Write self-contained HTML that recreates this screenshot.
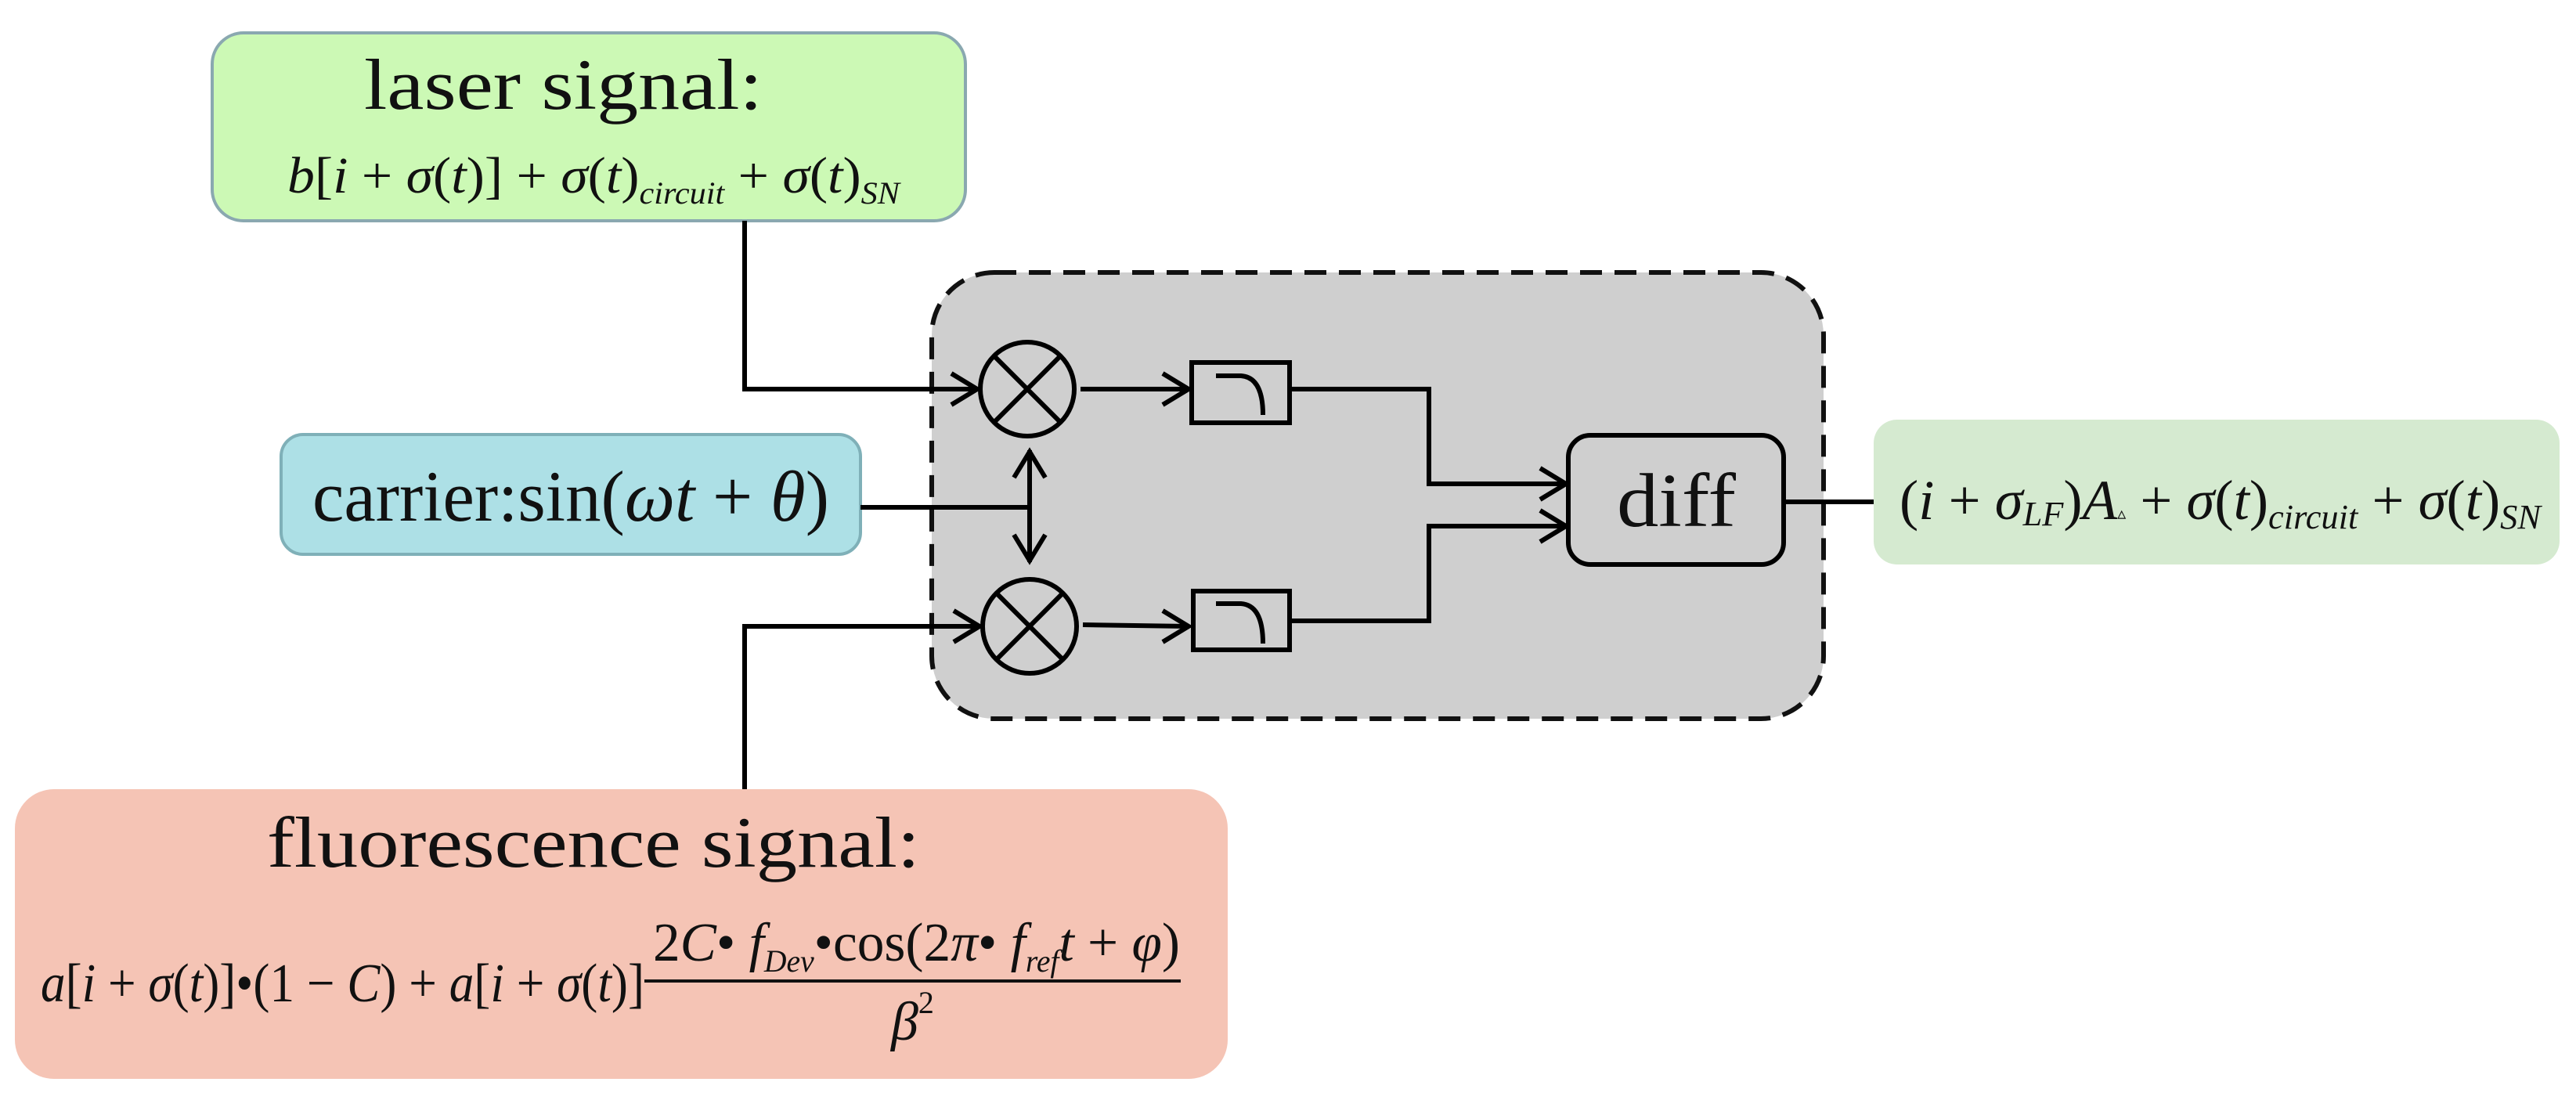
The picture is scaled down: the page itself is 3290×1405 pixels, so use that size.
<!DOCTYPE html>
<html><head><meta charset="utf-8"><style>
html,body{margin:0;padding:0;background:#fff;}
svg{display:block;}
text{font-family:"Liberation Serif",serif;fill:#111;}
.it{font-style:italic;}
</style></head><body>
<svg width="3290" height="1405" viewBox="0 0 3290 1405" xmlns="http://www.w3.org/2000/svg">
<defs>
<marker id="ar" markerWidth="12" markerHeight="12" refX="10" refY="6" orient="auto" markerUnits="userSpaceOnUse" viewBox="0 0 12 12">
</marker>
</defs>
<!-- laser box -->
<rect x="271" y="42" width="962" height="240" rx="40" fill="#ccf9b5" stroke="#8aa8b0" stroke-width="4"/>
<text x="465" y="139" font-size="92" textLength="509" lengthAdjust="spacingAndGlyphs">laser signal:</text>
<text x="367" y="246" font-size="66" textLength="782" lengthAdjust="spacingAndGlyphs"><tspan class="it">b</tspan>[<tspan class="it">i</tspan> + <tspan class="it">σ</tspan>(<tspan class="it">t</tspan>)] + <tspan class="it">σ</tspan>(<tspan class="it">t</tspan>)<tspan class="it" font-size="40" dy="14">circuit</tspan><tspan dy="-14"> + </tspan><tspan class="it">σ</tspan>(<tspan class="it">t</tspan>)<tspan class="it" font-size="40" dy="14">SN</tspan></text>

<!-- dashed box -->
<rect x="1190" y="348" width="1139" height="570" rx="80" fill="#cfcfcf" stroke="#111" stroke-width="6" stroke-dasharray="28,16"/>

<!-- carrier box -->
<rect x="359" y="555" width="740" height="153" rx="28" fill="#ade0e6" stroke="#7fb0b8" stroke-width="4"/>
<text x="399" y="665" font-size="92" textLength="660" lengthAdjust="spacingAndGlyphs">carrier:sin(<tspan class="it">ωt</tspan> + <tspan class="it">θ</tspan>)</text>

<!-- output box -->
<rect x="2393" y="536" width="876" height="185" rx="30" fill="#d5ead0"/>
<text x="2426" y="663" font-size="72" textLength="819" lengthAdjust="spacingAndGlyphs">(<tspan class="it">i</tspan> + <tspan class="it">σ</tspan><tspan class="it" font-size="44" dy="8">LF</tspan><tspan dy="-8">)</tspan><tspan class="it">A</tspan><tspan font-size="22">▵</tspan> + <tspan class="it">σ</tspan>(<tspan class="it">t</tspan>)<tspan class="it" font-size="44" dy="12">circuit</tspan><tspan dy="-12"> + </tspan><tspan class="it">σ</tspan>(<tspan class="it">t</tspan>)<tspan class="it" font-size="44" dy="12">SN</tspan></text>

<!-- fluorescence box -->
<rect x="19" y="1008" width="1549" height="370" rx="50" fill="#f5c4b5"/>
<text x="341" y="1107" font-size="92" textLength="834" lengthAdjust="spacingAndGlyphs">fluorescence signal:</text>
<text x="52" y="1279" font-size="70" textLength="771" lengthAdjust="spacingAndGlyphs"><tspan class="it">a</tspan>[<tspan class="it">i</tspan> + <tspan class="it">σ</tspan>(<tspan class="it">t</tspan>)]•(1 − <tspan class="it">C</tspan>) + <tspan class="it">a</tspan>[<tspan class="it">i</tspan> + <tspan class="it">σ</tspan>(<tspan class="it">t</tspan>)]</text>
<text x="834" y="1227" font-size="70" textLength="673" lengthAdjust="spacingAndGlyphs">2<tspan class="it">C</tspan>• <tspan class="it">f</tspan><tspan class="it" font-size="40" dy="14">Dev</tspan><tspan dy="-14">•cos(2</tspan><tspan class="it">π</tspan>• <tspan class="it">f</tspan><tspan class="it" font-size="40" dy="14">ref</tspan><tspan class="it" dy="-14">t</tspan> + <tspan class="it">φ</tspan>)</text>
<line x1="823" y1="1253" x2="1508" y2="1253" stroke="#111" stroke-width="4"/>
<text x="1138" y="1328" font-size="70" class="it">β<tspan font-size="40" dy="-34" font-style="normal">2</tspan></text>

<g fill="none" stroke="#000" stroke-width="6">
<!-- laser line -->
<polyline points="951,282 951,497 1248,497"/>
<polyline points="1215,477 1248,497 1215,517"/>
<!-- fluorescence line -->
<polyline points="951,1008 951,800 1251,800"/>
<polyline points="1218,780 1251,800 1218,820"/>
<!-- circles -->
<circle cx="1312" cy="497" r="60"/>
<line x1="1270" y1="455" x2="1354" y2="539"/>
<line x1="1354" y1="455" x2="1270" y2="539"/>
<circle cx="1315" cy="800" r="60"/>
<line x1="1273" y1="758" x2="1357" y2="842"/>
<line x1="1357" y1="758" x2="1273" y2="842"/>
<!-- carrier line and double arrow -->
<polyline points="1099,648 1315,648"/>
<line x1="1315" y1="575" x2="1315" y2="718"/>
<polyline points="1295,610 1315,577 1335,610"/>
<polyline points="1295,683 1315,716 1335,683"/>
<!-- circle to filter -->
<line x1="1380" y1="497" x2="1518" y2="497"/>
<polyline points="1485,477 1518,497 1485,517"/>
<line x1="1383" y1="798" x2="1518" y2="800"/>
<polyline points="1485,780 1518,800 1485,820"/>
<!-- filters -->
<rect x="1522" y="463" width="125" height="77"/>
<path d="M1553,480 H1585 Q1613,482 1613,530"/>
<rect x="1524" y="755" width="123" height="75"/>
<path d="M1553,771 H1585 Q1613,773 1613,822"/>
<!-- filter to diff -->
<polyline points="1647,497 1825,497 1825,618 2000,618"/>
<polyline points="1967,598 2000,618 1967,638"/>
<polyline points="1647,793 1825,793 1825,672 2000,672"/>
<polyline points="1967,652 2000,672 1967,692"/>
<!-- diff box -->
<rect x="2003" y="556" width="275" height="165" rx="28"/>
<line x1="2278" y1="641" x2="2393" y2="641"/>
</g>
<text x="2065" y="672" font-size="98" textLength="152" lengthAdjust="spacingAndGlyphs">diff</text>
</svg>
</body></html>
